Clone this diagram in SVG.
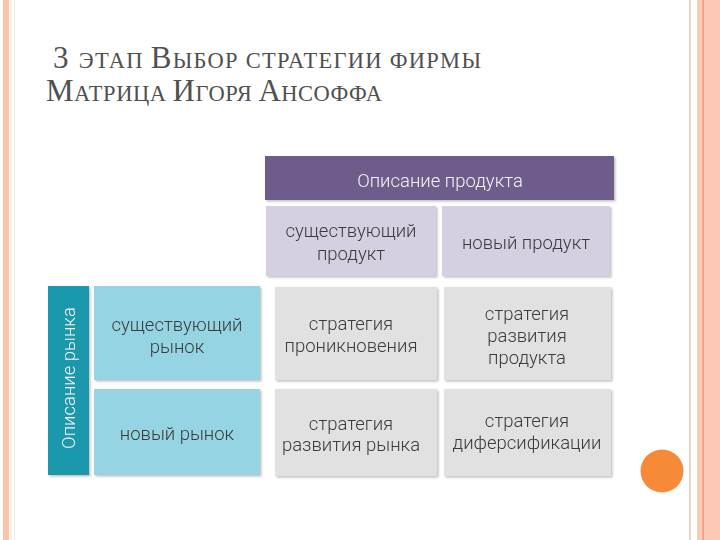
<svg xmlns="http://www.w3.org/2000/svg" width="720" height="540" viewBox="0 0 720 540">
<defs>
<style>
.t{font-family:Roboto,"Liberation Sans",sans-serif;font-size:18.5px;font-weight:300;fill:#3a3a3a;text-anchor:middle}
.w{fill:#f4f4f4}
.ttl{font-family:"Liberation Serif","DejaVu Serif",serif;fill:#505050}
.sc{font-size:22.5px}
.cap{font-size:31px}
</style>
<filter id="sh" x="-5%" y="-5%" width="115%" height="115%">
<feDropShadow dx="1.5" dy="1.5" stdDeviation="1.2" flood-color="#000" flood-opacity="0.25"/>
</filter>
</defs>
<rect width="720" height="540" fill="#fff"/>
<g id="frame">
<rect x="3" y="0" width="6" height="540" fill="#fcc4ab"/>
<rect x="10.5" y="0" width="1" height="540" fill="#f7d8c8"/>
<rect x="14" y="0" width="1" height="540" fill="#f1efdc"/>
<rect x="689" y="0" width="2" height="540" fill="#f2d3c3"/>
<rect x="697" y="0" width="23" height="540" fill="#fcc9b6"/>
<rect x="702.5" y="0" width="1.5" height="540" fill="#f39c7c"/>
<circle cx="662" cy="471" r="21.5" fill="#f78a38"/>
</g>
<g id="title">
<text class="ttl" x="53" y="68" textLength="428" lengthAdjust="spacing"><tspan class="cap">3 </tspan><tspan class="sc">ЭТАП </tspan><tspan class="cap">В</tspan><tspan class="sc">ЫБОР СТРАТЕГИИ ФИРМЫ</tspan></text>
<text class="ttl" x="46" y="101" textLength="336" lengthAdjust="spacing"><tspan class="cap">М</tspan><tspan class="sc">АТРИЦА </tspan><tspan class="cap">И</tspan><tspan class="sc">ГОРЯ </tspan><tspan class="cap">А</tspan><tspan class="sc">НСОФФА</tspan></text>
</g>
<g id="header-product" filter="url(#sh)">
<rect x="265" y="156" width="349" height="44" fill="#6e5b8b"/>
<text class="t w" x="440" y="187">Описание продукта</text>
</g>
<g id="existing-product" filter="url(#sh)">
<rect x="266" y="206" width="170" height="70" fill="#d6cee1"/>
<text class="t" x="351" y="237">существующий</text>
<text class="t" x="351" y="260">продукт</text>
</g>
<g id="new-product" filter="url(#sh)">
<rect x="442" y="206" width="168" height="70" fill="#d6cee1"/>
<text class="t" x="526" y="249">новый продукт</text>
</g>
<g id="header-market" filter="url(#sh)">
<rect x="48" y="286" width="41" height="189" fill="#1b98ad"/>
<text class="t w" transform="translate(75,378) rotate(-90)">Описание рынка</text>
</g>
<g id="existing-market" filter="url(#sh)">
<rect x="94" y="286" width="166" height="94" fill="#95d5e3"/>
<text class="t" x="177" y="331">существующий</text>
<text class="t" x="177" y="353">рынок</text>
</g>
<g id="new-market" filter="url(#sh)">
<rect x="94" y="389" width="166" height="86" fill="#95d5e3"/>
<text class="t" x="177" y="440">новый рынок</text>
</g>
<g id="penetration" filter="url(#sh)">
<rect x="275" y="287" width="162" height="93" fill="#e1e1e1"/>
<text class="t" x="351" y="330">стратегия</text>
<text class="t" x="351" y="352">проникновения</text>
</g>
<g id="product-development" filter="url(#sh)">
<rect x="444" y="287" width="167" height="93" fill="#e1e1e1"/>
<text class="t" x="527" y="320">стратегия</text>
<text class="t" x="527" y="342">развития</text>
<text class="t" x="527" y="364">продукта</text>
</g>
<g id="market-development" filter="url(#sh)">
<rect x="275" y="389" width="162" height="87" fill="#e1e1e1"/>
<text class="t" x="351" y="430">стратегия</text>
<text class="t" x="351" y="451">развития рынка</text>
</g>
<g id="diversification" filter="url(#sh)">
<rect x="444" y="389" width="167" height="87" fill="#e1e1e1"/>
<text class="t" x="527" y="427">стратегия</text>
<text class="t" x="527" y="449">диферсификации</text>
</g>
<g id="connectors"/>
</svg>
